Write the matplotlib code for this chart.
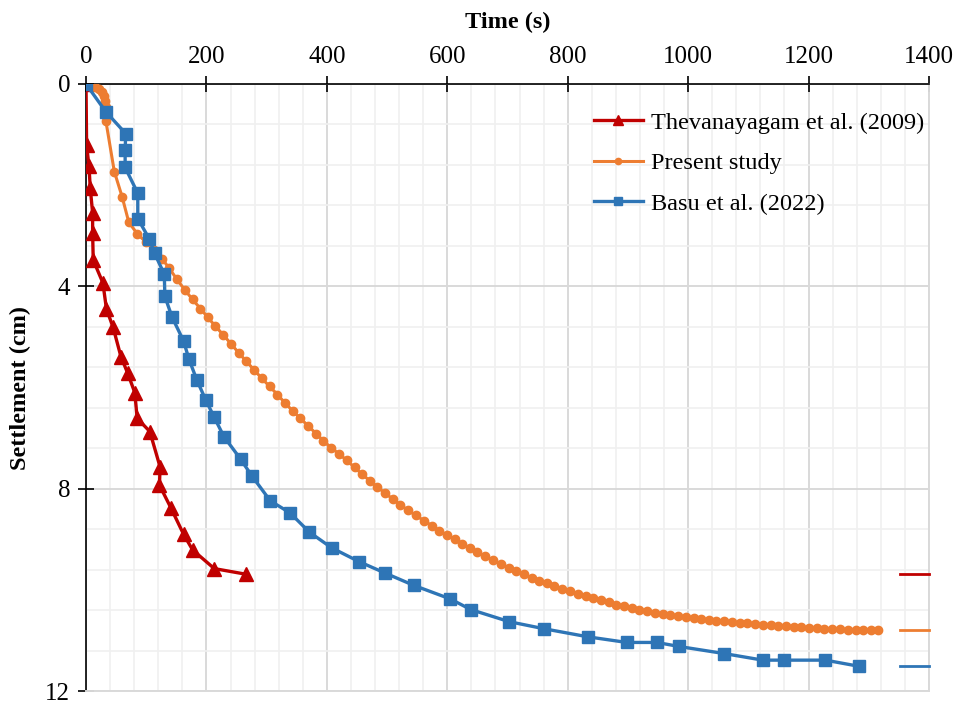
import matplotlib
matplotlib.use("Agg")
import matplotlib.pyplot as plt
from matplotlib.ticker import MultipleLocator

plt.rcParams['font.family'] = ['Liberation Serif', 'DejaVu Serif']

# ---------------- data ----------------
thev_t = [0, 1, 5, 7, 11, 11, 12, 28, 34, 45, 58, 69, 81, 85, 106, 123, 122, 141, 162, 177, 213, 265]
thev_s = [0, 1.21, 1.63, 2.05, 2.55, 2.94, 3.48, 3.93, 4.45, 4.81, 5.39, 5.71, 6.10, 6.61, 6.87, 7.57,
          7.93, 8.38, 8.90, 9.21, 9.58, 9.69]

present_t = [0, 8, 15, 21, 26, 30, 32, 34, 33, 47, 60, 71, 85,
             100, 113, 126, 138, 151, 164, 177, 190, 202, 215, 228, 241, 254, 266, 279, 292, 305,
             318, 330, 343, 356, 369, 382, 394, 407, 420, 433, 446, 458, 471, 484, 497, 510, 522,
             535, 548, 561, 574, 586, 599, 612, 625, 638, 650, 663, 676, 689, 702, 714, 727, 740,
             753, 766, 778, 791, 804, 817, 830, 842, 855, 868, 881, 894, 906, 919, 932, 945, 958,
             970, 983, 996, 1009, 1022, 1034, 1047, 1060, 1073, 1086, 1098, 1111, 1124, 1137, 1150,
             1162, 1175, 1188, 1201, 1214, 1226, 1239, 1252, 1265, 1278, 1290, 1303, 1316]
present_s = [0, 0.02, 0.05, 0.09, 0.15, 0.23, 0.33, 0.45, 0.73, 1.73, 2.23, 2.73, 2.96,
             3.13, 3.29, 3.45, 3.64, 3.86, 4.07, 4.26, 4.44, 4.61, 4.79, 4.96, 5.14, 5.32, 5.48,
             5.65, 5.82, 5.98, 6.14, 6.30, 6.46, 6.61, 6.76, 6.91, 7.05, 7.19, 7.31, 7.44, 7.58,
             7.71, 7.84, 7.97, 8.09, 8.21, 8.32, 8.43, 8.53, 8.63, 8.73, 8.83, 8.91, 9.00, 9.09,
             9.18, 9.26, 9.34, 9.41, 9.49, 9.56, 9.62, 9.69, 9.76, 9.82, 9.87, 9.93, 9.98, 10.03,
             10.08, 10.13, 10.17, 10.21, 10.25, 10.29, 10.32, 10.36, 10.39, 10.42, 10.45, 10.48,
             10.50, 10.52, 10.54, 10.56, 10.58, 10.59, 10.61, 10.62, 10.64, 10.65, 10.66, 10.67,
             10.69, 10.70, 10.71, 10.72, 10.73, 10.74, 10.75, 10.76, 10.77, 10.77, 10.78, 10.79,
             10.79, 10.80, 10.80, 10.80]

basu_t = [0, 33, 66, 65, 65, 86, 86, 105, 114, 130, 131, 143, 162, 171, 184, 199, 213, 229, 257,
          275, 306, 339, 371, 408, 453, 497, 544, 605, 639, 703, 761, 834, 898, 948, 985, 1060,
          1124, 1159, 1228, 1283]
basu_s = [0, 0.55, 0.98, 1.30, 1.65, 2.16, 2.66, 3.06, 3.35, 3.76, 4.20, 4.61, 5.08, 5.44, 5.85,
          6.25, 6.59, 6.97, 7.42, 7.74, 8.24, 8.48, 8.86, 9.17, 9.44, 9.67, 9.91, 10.18, 10.39,
          10.63, 10.77, 10.93, 11.04, 11.04, 11.12, 11.26, 11.39, 11.39, 11.39, 11.51]

labels = ["Thevanayagam et al. (2009)", "Present study", "Basu et al. (2022)"]
x_ticks = [0, 200, 400, 600, 800, 1000, 1200, 1400]
y_ticks = [0, 4, 8, 12]

RED, ORANGE, BLUE = "#C00000", "#ED7D31", "#2E75B6"

# ---------------- figure ----------------
fig = plt.figure(figsize=(9.58, 7.02), dpi=100)
ax = fig.add_axes([86/958, 1 - 691/702, (929-86)/958, (691-84)/702])

ax.set_xlim(0, 1400)
ax.set_ylim(12, 0)
ax.xaxis.tick_top()
ax.xaxis.set_label_position('top')
ax.set_xticks(x_ticks)
ax.set_yticks(y_ticks)
ax.xaxis.set_minor_locator(MultipleLocator(40))
ax.yaxis.set_minor_locator(MultipleLocator(0.8))

ax.grid(which='minor', color='#F0F0F0', linewidth=1.2, zorder=0)
ax.grid(which='major', color='#D9D9D9', linewidth=1.4, zorder=0)
ax.set_axisbelow(True)

ax.tick_params(axis='both', which='major', direction='inout', length=11, width=1.2,
               labelsize=18, color='black', pad=6)
ax.tick_params(axis='x', which='major', top=True, bottom=False)
ax.tick_params(axis='y', which='major', left=True, right=False)
ax.tick_params(which='minor', length=0)

for side in ['left', 'top']:
    ax.spines[side].set_color('black')
    ax.spines[side].set_linewidth(1.2)
for side in ['right', 'bottom']:
    ax.spines[side].set_color('#D9D9D9')
    ax.spines[side].set_linewidth(1.4)

ax.plot(thev_t, thev_s, color=RED, lw=2.4, marker='^', ms=10, label=labels[0], zorder=3)
ax.plot(present_t, present_s, color=ORANGE, lw=2.2, marker='o', ms=6, label=labels[1], zorder=4)
ax.plot(basu_t, basu_s, color=BLUE, lw=2.4, marker='s', ms=8.5, label=labels[2], zorder=5)

# short end-value markers at right edge
for s_vals, c in [(thev_s, RED), (present_s, ORANGE), (basu_s, BLUE)]:
    ax.plot([1352, 1400], [s_vals[-1], s_vals[-1]], color=c, lw=2, clip_on=False, zorder=6)

ax.set_xlabel("Time (s)", fontsize=17.5, fontweight='bold', labelpad=13)
ax.set_ylabel("Settlement (cm)", fontsize=17.5, fontweight='bold', labelpad=10)

leg = ax.legend(loc='upper right', bbox_to_anchor=(1.006, 0.97), frameon=False, fontsize=17.5,
                handlelength=2.0, handletextpad=0.35, labelspacing=0.76, borderaxespad=0)
for h in leg.legend_handles:
    h.set_markersize(h.get_markersize() * 0.75)

fig.savefig("out.png", dpi=100)
